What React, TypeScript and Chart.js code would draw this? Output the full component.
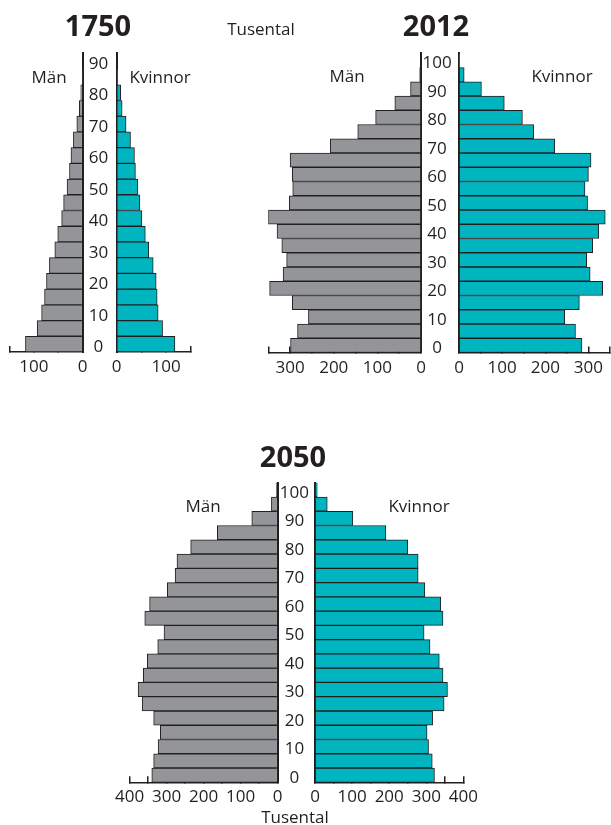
import React, { useEffect, useRef } from 'react';
import { Chart, registerables } from 'chart.js';

Chart.register(...registerables);

const FONT = "'Open Sans', 'Noto Sans', sans-serif";
const INK = '#231f20';
const GRAY = '#939598';
const TEAL = '#00b5bf';

// Age groups (5-year classes, lower bound)
const ages1750 = [0, 5, 10, 15, 20, 25, 30, 35, 40, 45, 50, 55, 60, 65, 70, 75, 80, 85, 90];
const ages2012 = [0, 5, 10, 15, 20, 25, 30, 35, 40, 45, 50, 55, 60, 65, 70, 75, 80, 85, 90, 95, 100];
const ages2050 = [0, 5, 10, 15, 20, 25, 30, 35, 40, 45, 50, 55, 60, 65, 70, 75, 80, 85, 90, 95, 100];

// Population, thousands (Tusental)
const men1750 = [117, 93, 84, 78, 74, 68, 57, 51, 43, 39, 32, 27, 24, 19, 12, 7, 4, 1, 0];
const women1750 = [118, 93, 84, 82, 80, 74, 65, 58, 51, 47, 43, 38, 36, 28, 19, 11, 8, 2, 0];

const men2012 = [299, 283, 258, 295, 347, 316, 308, 319, 330, 350, 302, 294, 295, 300, 208, 145, 104, 60, 24, 3, 0];
const women2012 = [285, 270, 245, 279, 333, 304, 296, 310, 324, 339, 298, 292, 300, 306, 222, 173, 147, 105, 52, 12, 1];

const men2050 = [340, 335, 323, 317, 335, 366, 377, 363, 352, 324, 307, 359, 346, 298, 277, 272, 235, 163, 70, 17, 4];
const women2050 = [322, 316, 306, 302, 317, 348, 357, 345, 335, 310, 294, 345, 339, 296, 278, 278, 250, 191, 102, 33, 6];

const axisMax1750 = 150;
const axisMax2012 = 350;
const axisMax2050 = 400;

type Area = { l: number; r: number; t: number; b: number };

type HalfProps = {
  side: 'men' | 'women';
  ages: number[];
  values: number[];
  max: number;
  area: Area;
  yW: number;
  yPad: number;
};

const PAD = 20;
const XH = 40;

function HalfPyramid({ side, ages, values, max, area, yW, yPad }: HalfProps) {
  const ref = useRef<HTMLCanvasElement>(null);
  const isWomen = side === 'women';
  const boxL = Math.floor(area.l - PAD - (isWomen ? yW : 0));
  const boxR = Math.ceil(area.r + PAD);
  const boxT = Math.floor(area.t - PAD);
  const boxB = Math.ceil(area.b + XH);
  const w = boxR - boxL;
  const h = boxB - boxT;
  const padLeft = area.l - boxL - (isWomen ? yW : 0);
  const padRight = boxR - area.r;
  const padTop = area.t - boxT;
  const padBottom = boxB - area.b - XH;

  useEffect(() => {
    if (!ref.current) return;
    const chart = new Chart(ref.current, {
      type: 'bar',
      data: {
        labels: ages.map(String),
        datasets: [
          {
            data: values,
            backgroundColor: isWomen ? TEAL : GRAY,
            borderColor: INK,
            borderWidth: 1,
            borderSkipped: 'start',
            categoryPercentage: 1,
            barPercentage: 1,
          },
        ],
      },
      options: {
        indexAxis: 'y',
        animation: false,
        responsive: false,
        devicePixelRatio: 1,
        events: [],
        layout: { padding: { left: padLeft, right: padRight, top: padTop, bottom: padBottom } },
        plugins: { legend: { display: false }, tooltip: { enabled: false }, title: { display: false } },
        scales: {
          x: {
            type: 'linear',
            position: 'bottom',
            reverse: !isWomen,
            min: 0,
            max,
            afterFit: (s: any) => {
              s.height = XH;
            },
            border: { display: true, color: INK, width: 1.5 },
            grid: {
              display: true,
              drawOnChartArea: false,
              drawTicks: true,
              tickLength: -6,
              color: INK,
              lineWidth: 1.5,
            },
            ticks: {
              stepSize: 50,
              autoSkip: false,
              maxRotation: 0,
              minRotation: 0,
              padding: 11,
              color: INK,
              font: { family: FONT, size: 17 },
              callback: (v: any) => (Number(v) % 100 === 0 ? String(v) : ''),
            },
          },
          y: {
            type: 'category',
            position: isWomen ? 'left' : 'right',
            reverse: true,
            offset: true,
            afterFit: (s: any) => {
              s.width = isWomen ? yW : 0;
            },
            border: { display: true, color: INK, width: 2 },
            grid: { display: false, drawTicks: false },
            ticks: {
              display: isWomen,
              autoSkip: false,
              crossAlign: 'center',
              padding: yPad,
              labelOffset: 3,
              color: INK,
              font: { family: FONT, size: 17 },
              callback: (_v: any, idx: number) => (ages[idx] % 10 === 0 ? String(ages[idx]) : ''),
            },
          },
        },
      } as any,
    });
    return () => chart.destroy();
  }, []);

  return (
    <canvas
      ref={ref}
      width={w}
      height={h}
      style={{ position: 'absolute', left: boxL, top: boxT, width: w, height: h }}
    />
  );
}

function Label({ x, y, text, size = 17, bold = false }: { x: number; y: number; text: string; size?: number; bold?: boolean }) {
  return (
    <div
      style={{
        position: 'absolute',
        left: x,
        top: y,
        transform: 'translate(-50%, -50%)',
        fontFamily: FONT,
        fontSize: size,
        fontWeight: bold ? 700 : 400,
        lineHeight: 1,
        whiteSpace: 'nowrap',
        color: INK,
      }}
    >
      {text}
    </div>
  );
}

export default function App() {
  return (
    <div
      style={{
        position: 'fixed',
        left: 0,
        top: 0,
        width: 611,
        height: 825,
        overflow: 'hidden',
        background: '#ffffff',
      }}
    >
      <HalfPyramid side="men" ages={ages1750} values={men1750} max={axisMax1750} area={{ l: 9.3, r: 82.7, t: 53.3, b: 352 }} yW={0} yPad={0} />
      <HalfPyramid side="women" ages={ages1750} values={women1750} max={axisMax1750} area={{ l: 116.7, r: 190.7, t: 53.3, b: 352 }} yW={34} yPad={8.5} />

      <HalfPyramid side="men" ages={ages2012} values={men2012} max={axisMax2012} area={{ l: 268.3, r: 421, t: 53.3, b: 352.5 }} yW={0} yPad={0} />
      <HalfPyramid side="women" ages={ages2012} values={women2012} max={axisMax2012} area={{ l: 459, r: 610, t: 53.3, b: 352.5 }} yW={38} yPad={7.4} />

      <HalfPyramid side="men" ages={ages2050} values={men2050} max={axisMax2050} area={{ l: 124.3, r: 277.7, t: 482.7, b: 782.3 }} yW={0} yPad={0} />
      <HalfPyramid side="women" ages={ages2050} values={women2050} max={axisMax2050} area={{ l: 315, r: 468.3, t: 482.7, b: 782.3 }} yW={37.3} yPad={6} />

      <Label x={98} y={24} text="1750" size={29} bold />
      <Label x={436} y={24} text="2012" size={29} bold />
      <Label x={293} y={455} text="2050" size={29} bold />
      <Label x={261} y={28} text="Tusental" />
      <Label x={295} y={816} text="Tusental" />

      <Label x={49} y={76} text="Män" />
      <Label x={160} y={76} text="Kvinnor" />
      <Label x={347} y={75} text="Män" />
      <Label x={562} y={75} text="Kvinnor" />
      <Label x={203} y={505} text="Män" />
      <Label x={419} y={505} text="Kvinnor" />
    </div>
  );
}
